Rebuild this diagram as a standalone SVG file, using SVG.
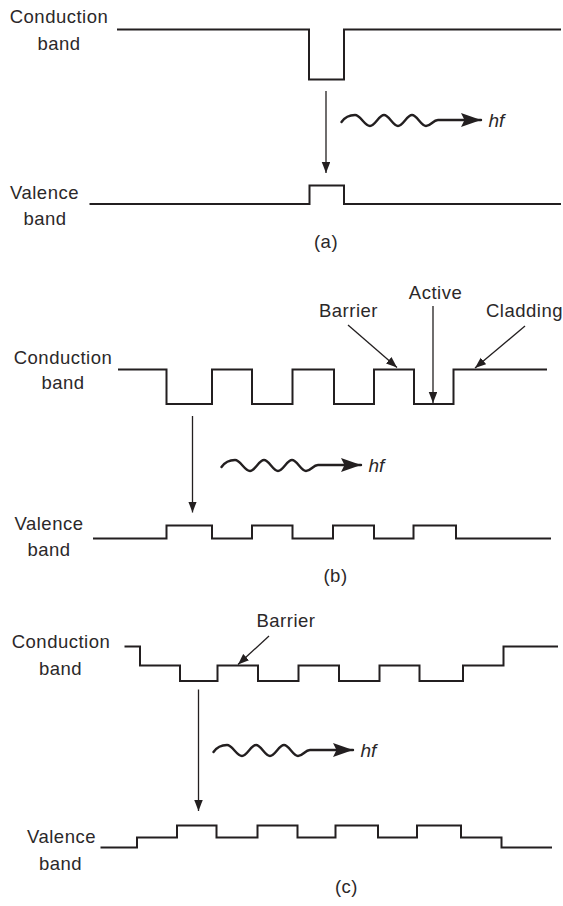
<svg xmlns="http://www.w3.org/2000/svg" width="563" height="906" viewBox="0 0 563 906">
<defs>
<style>
.band{fill:none;stroke:#231f20;stroke-width:2;stroke-linejoin:miter}
.thin{fill:none;stroke:#231f20;stroke-width:1.3}
.wave{fill:none;stroke:#231f20;stroke-width:2.4;stroke-linecap:round}
.lbl{font-family:"Liberation Sans",Arial,sans-serif;font-size:18.5px;letter-spacing:0.5px;fill:#2b2829;text-anchor:middle}
.hf{font-family:"Liberation Sans",Arial,sans-serif;font-size:19px;font-style:italic;fill:#2b2829}
</style>
<marker id="ah" markerUnits="userSpaceOnUse" markerWidth="12" markerHeight="9" refX="11" refY="4.25" orient="auto">
<path d="M0,0 L11,4.25 L0,8.5 z" fill="#231f20"/>
</marker>
<marker id="bigah" markerUnits="userSpaceOnUse" markerWidth="22" markerHeight="15" refX="20" refY="7" orient="auto">
<path d="M0,0 L20,7 L0,14 L3.5,7 z" fill="#231f20"/>
</marker>
<g id="photon">
<path class="wave" d="M341.5,122 C345,117 350,115 355,115 C360.5,115 364.5,126 370,126 C375,126 379,115 384,115 C389,115 393,126 398,126 C403,126 407,115 412,115 C417,115 421,126 426,126 C431,126 433,120 438,120 L481,120" marker-end="url(#bigah)"/>
<text class="hf" x="488.5" y="126.5">hf</text>
</g>
</defs>

<g id="panel-a">
<g id="a-conduction">
<path class="band" d="M117,29.5 H309 V79.5 H344 V29.5 H561"/>
<text class="lbl" x="59" y="23">Conduction</text>
<text class="lbl" x="59" y="49.5">band</text>
</g>
<g id="a-valence">
<path class="band" d="M89.5,204 H309.5 V185.5 H344 V204 H561"/>
<text class="lbl" x="44.5" y="198.5">Valence</text>
<text class="lbl" x="45" y="225">band</text>
</g>
<text id="a-caption" class="lbl" x="326" y="248">(a)</text>
</g>

<g id="panel-b">
<g id="b-conduction">
<path class="band" d="M118,369.5 H166.5 V404 H212 V369.5 H252 V404 H292.5 V369.5 H334 V404 H374 V369.5 H414 V404 H453.5 V369.5 H547"/>
<text class="lbl" x="63" y="363.5">Conduction</text>
<text class="lbl" x="63" y="389">band</text>
</g>
<g id="b-valence">
<path class="band" d="M93,538.5 H166.5 V525.5 H212 V538.5 H252 V525.5 H292.5 V538.5 H333 V525.5 H374 V538.5 H413.5 V525.5 H456 V538.5 H551"/>
<text class="lbl" x="49" y="529.5">Valence</text>
<text class="lbl" x="49" y="556">band</text>
</g>
<text id="b-barrier" class="lbl" x="348.5" y="317">Barrier</text>
<text id="b-active" class="lbl" x="435.5" y="299">Active</text>
<text id="b-cladding" class="lbl" x="524.5" y="317">Cladding</text>
<text id="b-caption" class="lbl" x="335.5" y="582">(b)</text>
</g>

<g id="panel-c">
<g id="c-conduction">
<path class="band" d="M124.5,646.5 H140 V665.5 H180 V681 H217.5 V665.5 H258 V681 H298.5 V665.5 H339 V681 H379.5 V665.5 H419.5 V681 H463 V665.5 H503.5 V646.5 H558"/>
<text class="lbl" x="61" y="648">Conduction</text>
<text class="lbl" x="60.5" y="675">band</text>
</g>
<g id="c-valence">
<path class="band" d="M100.5,847.5 H137 V837.5 H177 V825.5 H216.5 V837.5 H257.5 V825.5 H297.5 V837.5 H335.5 V825.5 H378 V837.5 H417 V825.5 H461 V837.5 H501.5 V847.5 H552"/>
<text class="lbl" x="61.5" y="843">Valence</text>
<text class="lbl" x="60.5" y="870">band</text>
</g>
<text id="c-barrier" class="lbl" x="286" y="627">Barrier</text>
<text id="c-caption" class="lbl" x="346.5" y="893">(c)</text>
</g>

<g id="connectors">
<line class="thin" x1="326" y1="91" x2="326" y2="173" marker-end="url(#ah)"/>
<use href="#photon"/>
<line class="thin" x1="192.5" y1="416" x2="192.5" y2="512.5" marker-end="url(#ah)"/>
<use href="#photon" transform="translate(-120,345)"/>
<line class="thin" x1="348" y1="325" x2="397" y2="367.5" marker-end="url(#ah)"/>
<line class="thin" x1="433" y1="306" x2="433" y2="403" marker-end="url(#ah)"/>
<line class="thin" x1="525" y1="326" x2="475" y2="368" marker-end="url(#ah)"/>
<line class="thin" x1="198.5" y1="689.5" x2="198.5" y2="811" marker-end="url(#ah)"/>
<use href="#photon" transform="translate(-128,630)"/>
<line class="thin" x1="269" y1="636" x2="238" y2="664.5" marker-end="url(#ah)"/>
</g>
</svg>
